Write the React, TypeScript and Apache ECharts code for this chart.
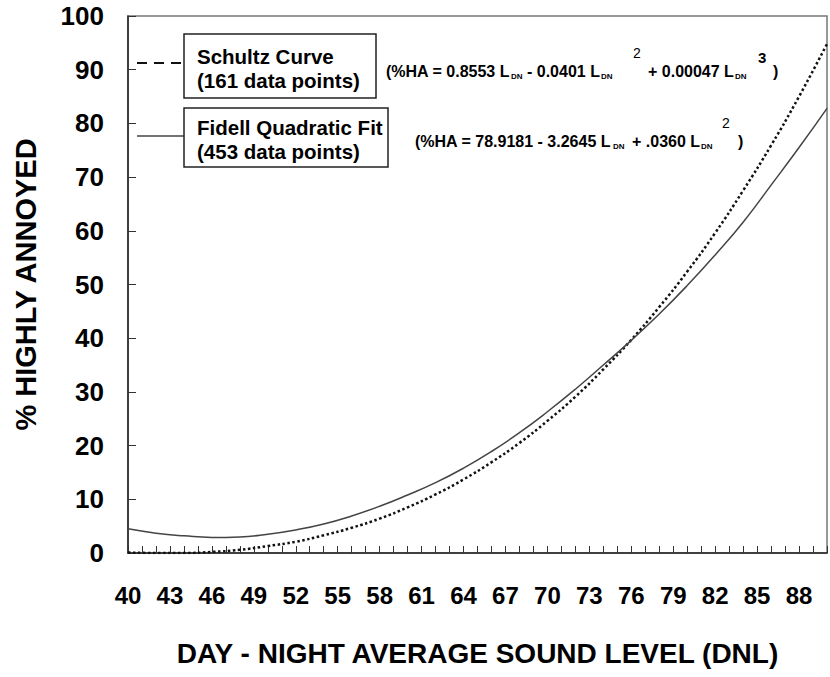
import React, { useEffect, useRef } from "react";
import * as echarts from "echarts";

const dnl = [40, 42, 44, 46, 48, 50, 52, 54, 56, 58, 60, 62, 64, 66, 68, 70, 72, 74, 76, 78, 80, 82, 84, 86, 88, 90];
const schultz = [0.1, 0.0, 0.0, 0.2, 0.6, 1.3, 2.1, 3.3, 4.7, 6.4, 8.5, 10.9, 13.7, 16.9, 20.5, 24.6, 29.1, 34.2, 39.7, 45.8, 52.4, 59.6, 67.5, 75.9, 85.0, 94.8];
const fidell = [4.5, 3.7, 3.2, 2.9, 3.0, 3.5, 4.3, 5.4, 6.9, 8.7, 10.8, 13.1, 15.8, 18.9, 22.4, 26.3, 30.5, 35.0, 39.6, 44.5, 49.8, 55.5, 61.6, 68.5, 75.5, 82.8];

const schultzLegend = ["Schultz Curve", "(161 data points)"];
const fidellLegend = ["Fidell Quadratic Fit", "(453 data points)"];
const xTitle = "DAY - NIGHT AVERAGE SOUND LEVEL (DNL)";
const yTitle = "% HIGHLY ANNOYED";

// equation pieces: [text, kind]  m = main, s = subscript, p = superscript
const schultzEq = [
  ["(%HA = 0.8553 L", "m"], ["DN", "s"], ["- 0.0401 L", "m"], ["DN", "s"], ["2", "p"],
  ["+ 0.00047 L", "m"], ["DN", "s"], ["3", "pb"], [")", "m"],
];
const fidellEq = [
  ["(%HA = 78.9181 - 3.2645 L", "m"], ["DN", "s"], ["+ .0360 L", "m"], ["DN", "s"], ["2", "p"], [")", "m"],
];

const FONT = '"Liberation Sans", Arial, Helvetica, sans-serif';

export default function App() {
  const ref = useRef<HTMLDivElement>(null);
  useEffect(() => {
    if (!ref.current) return;
    const chart = echarts.init(ref.current, null, { renderer: "svg" });

    const styles: any = {
      m: { fontSize: 16, fontWeight: "bold", dy: 0 },
      s: { fontSize: 8, fontWeight: "bold", dy: 5 },
      p: { fontSize: 14, fontWeight: "normal", dy: -18 },
      pb: { fontSize: 15, fontWeight: "bold", dy: -14 },
    };
    const eqElements = (pieces: string[][], xs: number[], y: number) =>
      pieces.map(([text, kind], i) => ({
        type: "text",
        x: xs[i],
        y: y + styles[kind].dy,
        style: {
          text,
          fontSize: styles[kind].fontSize,
          fontWeight: styles[kind].fontWeight,
          fontFamily: FONT,
          fill: "#000",
          verticalAlign: "middle",
          align: "left",
        },
      }));

    const legendText = (x: number, y: number, text: string) => ({
      type: "text",
      x,
      y,
      style: { text, fontSize: 20.5, fontWeight: "bold", fontFamily: FONT, fill: "#000", verticalAlign: "middle" },
    });

    const option: any = {
      animation: false,
      backgroundColor: "#fff",
      grid: { left: 128, top: 16, right: 2, bottom: 124, show: true, borderColor: "#777", borderWidth: 1.5 },
      xAxis: {
        type: "value",
        min: 40,
        max: 90,
        interval: 1,
        name: xTitle,
        nameLocation: "middle",
        nameGap: 86,
        nameTextStyle: { fontSize: 28, fontWeight: "bold", fontFamily: FONT, color: "#000" },
        axisLine: { show: true, lineStyle: { color: "#222", width: 1.5 } },
        axisTick: { show: true, inside: true, length: 7, lineStyle: { color: "#333", width: 1 } },
        splitLine: { show: false },
        axisLabel: {
          margin: 30,
          fontSize: 24,
          fontWeight: "bold",
          fontFamily: FONT,
          color: "#000",
          formatter: (v: number) => ((v - 40) % 3 === 0 ? String(v) : ""),
        },
      },
      yAxis: {
        type: "value",
        min: 0,
        max: 100,
        interval: 10,
        name: yTitle,
        nameLocation: "middle",
        nameGap: 88,
        nameTextStyle: { fontSize: 29, fontWeight: "bold", fontFamily: FONT, color: "#000" },
        axisLine: { show: true, lineStyle: { color: "#222", width: 1.5 } },
        axisTick: { show: true, inside: true, length: 8, lineStyle: { color: "#333", width: 1 } },
        splitLine: { show: false },
        axisLabel: { margin: 24, fontSize: 26, fontWeight: "bold", fontFamily: FONT, color: "#000" },
      },
      series: [
        {
          name: "Schultz Curve",
          type: "line",
          smooth: true,
          showSymbol: false,
          data: dnl.map((x, i) => [x, schultz[i]]),
          lineStyle: { color: "#111", width: 2.5, type: [2.5, 2.5] },
        },
        {
          name: "Fidell Quadratic Fit",
          type: "line",
          smooth: true,
          showSymbol: false,
          data: dnl.map((x, i) => [x, fidell[i]]),
          lineStyle: { color: "#444", width: 1.5, type: "solid" },
        },
      ],
      graphic: [
        { type: "line", shape: { x1: 137, y1: 63, x2: 183, y2: 63 }, style: { stroke: "#111", lineWidth: 2, lineDash: [10, 7] } },
        { type: "line", shape: { x1: 137, y1: 136, x2: 184, y2: 136 }, style: { stroke: "#444", lineWidth: 1.5 } },
        { type: "rect", shape: { x: 184, y: 34, width: 192, height: 64 }, style: { fill: "#fff", stroke: "#222", lineWidth: 1.5 } },
        { type: "rect", shape: { x: 184, y: 108, width: 204, height: 59 }, style: { fill: "#fff", stroke: "#222", lineWidth: 1.5 } },
        legendText(197, 56, schultzLegend[0]),
        legendText(197, 80, schultzLegend[1]),
        legendText(197, 127, fidellLegend[0]),
        legendText(197, 151, fidellLegend[1]),
        ...eqElements(schultzEq, [386, 511, 527, 601, 633, 648, 735, 758, 773], 71),
        ...eqElements(fidellEq, [415, 613, 632, 701, 722, 738], 141),
      ],
    };
    chart.setOption(option);
    return () => chart.dispose();
  }, []);
  return (
    <div
      ref={ref}
      style={{ position: "fixed", left: 0, top: 0, width: 830, height: 677, background: "#fff" }}
    />
  );
}
